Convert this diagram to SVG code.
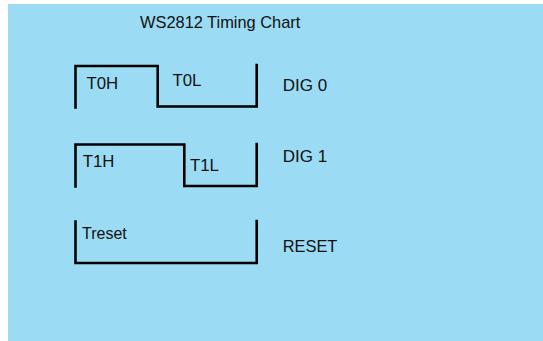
<svg xmlns="http://www.w3.org/2000/svg" width="543" height="341" viewBox="0 0 543 341">
<style>
.t{font-family:"Liberation Sans",Arial,sans-serif;fill:#111;font-size:16px}
.w{fill:none;stroke:#000;stroke-width:2.6;stroke-linejoin:miter;stroke-linecap:square}
</style>
<rect x="0" y="0" width="543" height="341" fill="#ffffff"/>
<rect x="8" y="4" width="535" height="337" fill="#9cdbf4"/>
<text class="t" x="140" y="27.5" style="font-size:16.4px">WS2812 Timing Chart</text>
<g id="connectors">
<path class="w" d="M75.5,107.5 V66 H157.7 V106.5 H256.7 V65"/>
<path class="w" d="M75.5,186.5 V144.5 H184.3 V186 H256.7 V144"/>
<path class="w" d="M75.5,221.5 V263 H256.7 V221"/>
</g>
<g id="dig0">
<text class="t" x="86.5" y="89" style="font-size:16.8px">T0H</text>
<text class="t" x="172.5" y="85.7" style="font-size:16.8px">T0L</text>
<text class="t" x="282.7" y="90.7" style="font-size:17px">DIG 0</text>
</g>
<g id="dig1">
<text class="t" x="82.7" y="167.3" style="font-size:16.8px">T1H</text>
<text class="t" x="190" y="170.7" style="font-size:16.8px">T1L</text>
<text class="t" x="282.7" y="162.3" style="font-size:17px">DIG 1</text>
</g>
<g id="reset">
<text class="t" x="82" y="239.3" style="font-size:16px">Treset</text>
<text class="t" x="282.7" y="251.7" style="font-size:16.4px">RESET</text>
</g>
</svg>
